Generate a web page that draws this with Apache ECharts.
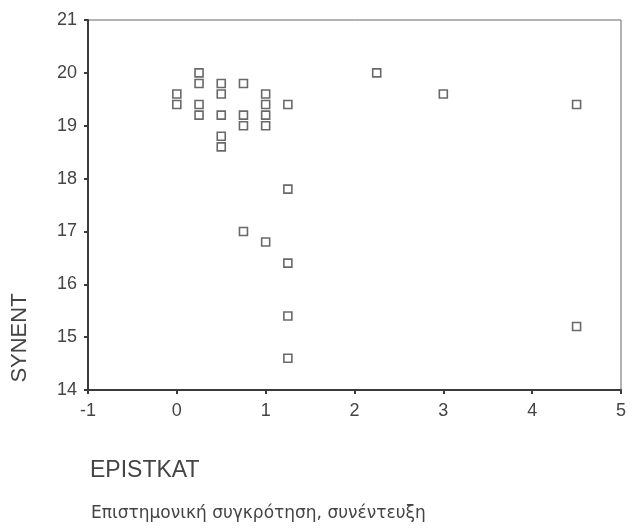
<!DOCTYPE html>
<html>
<head>
<meta charset="utf-8">
<script src="https://cdn.jsdelivr.net/npm/echarts@6/dist/echarts.min.js"></script>
<style>
  html, body { margin: 0; padding: 0; background: #fff; }
  #chart { width: 633px; height: 532px; }
</style>
</head>
<body>
<div id="chart"></div>
<script>
// EPISTKAT vs SYNENT
const epistkat = [
  0, 0,
  0.25, 0.25, 0.25, 0.25,
  0.5, 0.5, 0.5, 0.5, 0.5,
  0.75, 0.75, 0.75, 0.75,
  1, 1, 1, 1, 1,
  1.25, 1.25, 1.25, 1.25, 1.25,
  2.25, 3, 4.5, 4.5
];
const synent = [
  19.6, 19.4,
  20.0, 19.8, 19.4, 19.2,
  19.8, 19.6, 19.2, 18.8, 18.6,
  19.8, 19.2, 19.0, 17.0,
  19.6, 19.4, 19.2, 19.0, 16.8,
  19.4, 17.8, 16.4, 15.4, 14.6,
  20.0, 19.6, 19.4, 15.2
];
const xTicks = [-1, 0, 1, 2, 3, 4, 5];
const yTicks = [14, 15, 16, 17, 18, 19, 20, 21];

const chart = echarts.init(document.getElementById('chart'));

const axisColor = '#3a3a3a';
const font = 'Liberation Sans, Arial, sans-serif';
const labelStyle = { color: '#444', fontSize: 18, fontFamily: font };

chart.setOption({
  animation: false,
  backgroundColor: '#fff',
  grid: {
    left: 88, right: 12, top: 20, bottom: 142,
    show: true, borderColor: '#666', borderWidth: 1
  },
  xAxis: {
    type: 'value',
    min: xTicks[0], max: xTicks[xTicks.length - 1], interval: 1,
    axisLine: { show: true, onZero: false, lineStyle: { color: axisColor, width: 2 } },
    axisTick: { show: true, length: 4, lineStyle: { color: axisColor, width: 2 } },
    axisLabel: { ...labelStyle, margin: 12 },
    splitLine: { show: false }
  },
  yAxis: {
    type: 'value',
    min: yTicks[0], max: yTicks[yTicks.length - 1], interval: 1,
    axisLine: { show: true, onZero: false, lineStyle: { color: axisColor, width: 2 } },
    axisTick: { show: true, length: 4, lineStyle: { color: axisColor, width: 2 } },
    axisLabel: { ...labelStyle, margin: 11 },
    splitLine: { show: false }
  },
  graphic: [
    {
      type: 'text', x: 20, y: 338, rotation: Math.PI / 2,
      style: {
        text: 'SYNENT', fill: '#444', fontSize: 22, fontFamily: font,
        align: 'center', verticalAlign: 'middle'
      }
    },
    {
      type: 'text', x: 90, y: 471,
      style: {
        text: 'EPISTKAT', fill: '#444', fontSize: 23, fontFamily: font,
        align: 'left', verticalAlign: 'middle'
      }
    },
    {
      type: 'text', x: 91, y: 514,
      style: {
        text: 'Επιστημονική συγκρότηση, συνέντευξη', fill: '#444', fontSize: 17,
        fontFamily: 'DejaVu Sans, Verdana, sans-serif', align: 'left', verticalAlign: 'middle'
      }
    }
  ],
  series: [{
    type: 'scatter',
    data: epistkat.map((x, i) => [x, synent[i]]),
    symbol: 'rect',
    symbolSize: 8,
    itemStyle: { color: '#fff', borderColor: '#444', borderWidth: 1.6 }
  }]
});
</script>
</body>
</html>
